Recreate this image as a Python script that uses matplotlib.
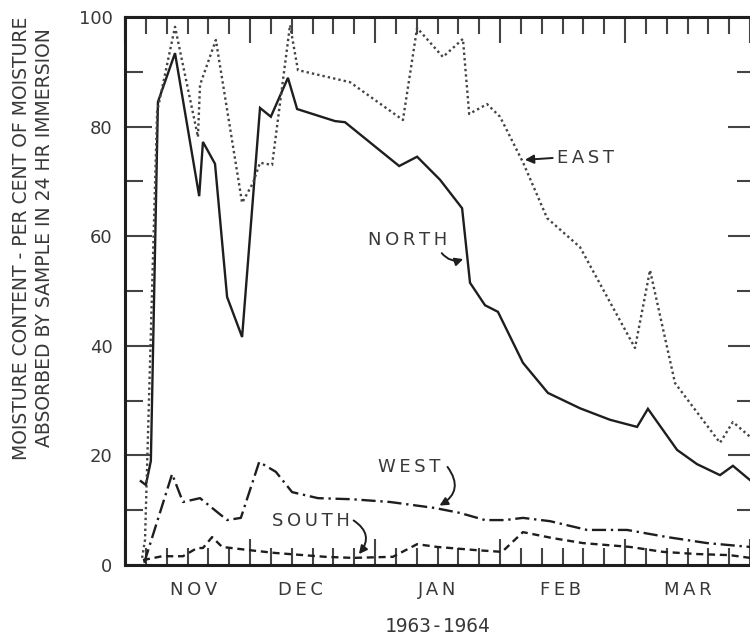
# moisture content of samples, Nov 1963 - Mar 1964
import matplotlib.pyplot as plt
from matplotlib.ticker import MultipleLocator

# days counted from 1 Nov (30 days per month on the chart)
north_day = [3.8, 5.0, 6.2, 7.9, 12.0, 17.8, 18.7, 21.6, 24.5, 28.1, 32.4, 35.0, 39.1,
             41.3, 50.4, 52.8, 65.8, 70.1, 75.6, 80.9, 82.8, 86.4, 89.5, 95.5, 101.5,
             109.2, 116.4, 122.9, 125.5, 132.5, 137.3, 142.8, 145.9, 150.0]
north_pct = [15.3, 14.6, 19.0, 84.5, 93.4, 67.3, 77.2, 73.2, 48.9, 41.6, 83.4, 81.8, 88.9,
             83.2, 81.0, 80.8, 72.8, 74.5, 70.3, 65.1, 51.5, 47.4, 46.2, 36.9, 31.4,
             28.6, 26.5, 25.2, 28.5, 21.0, 18.4, 16.4, 18.1, 15.5]

east_day = [4.1, 4.8, 7.7, 12.0, 17.5, 18.0, 21.8, 28.1, 30.7, 32.4, 35.3, 39.6, 41.5,
            54.0, 66.7, 70.1, 76.3, 81.1, 82.6, 86.9, 90.0, 95.5, 101.3, 109.2, 122.4,
            126.0, 132.0, 142.8, 145.9, 150.0]
east_pct = [1.3, 4.6, 82.7, 98.2, 78.1, 87.6, 95.8, 66.1, 69.7, 73.4, 73.0, 98.5, 90.3,
            88.1, 81.2, 98.0, 92.7, 96.0, 82.3, 84.1, 81.8, 73.5, 63.3, 58.0, 39.6,
            53.8, 33.2, 22.3, 26.1, 23.4]

west_day = [4.6, 11.3, 13.9, 18.0, 24.5, 27.8, 32.2, 36.2, 40.1, 46.3, 54.5, 63.6, 74.4,
            80.4, 86.4, 91.2, 95.5, 102.0, 110.9, 120.5, 130.1, 139.7, 150.0]
west_pct = [0.4, 16.6, 11.5, 12.2, 8.2, 8.6, 18.8, 17.0, 13.3, 12.2, 12.0, 11.5, 10.4,
            9.5, 8.2, 8.2, 8.6, 8.0, 6.4, 6.4, 5.1, 4.0, 3.3]

south_day = [4.3, 8.9, 13.9, 17.3, 18.7, 20.9, 23.3, 30.0, 36.0, 48.0, 54.7, 64.3, 70.1,
             74.9, 84.5, 90.5, 95.5, 102.7, 109.9, 121.2, 129.1, 137.3, 145.2, 150.0]
south_pct = [0.9, 1.6, 1.6, 3.1, 3.1, 5.1, 3.3, 2.7, 2.2, 1.5, 1.3, 1.5, 3.8,
             3.3, 2.7, 2.4, 6.0, 4.9, 4.0, 3.3, 2.4, 2.0, 1.8, 1.3]

months = ['NOV', 'DEC', 'JAN', 'FEB', 'MAR']
month_pos = [16.4, 42.0, 75.0, 104.4, 135.0]

ink = '#1e1e1e'
txt = '#383838'
ts = '\u2009'  # thin space to open up the lettering

fig = plt.figure(figsize=(7.5, 6.38), dpi=100)
ax = fig.add_axes([0.1667, 0.1144, 0.8333, 0.859])

ax.plot(north_day, north_pct, color=ink, lw=1.7, solid_joinstyle='miter')
ax.plot(east_day, east_pct, color='#444444', lw=1.7, linestyle=(0, (1, 1.3)))
ax.plot(west_day, west_pct, color=ink, lw=1.7, linestyle=(0, (6, 2, 1, 2)))
ax.plot(south_day, south_pct, color=ink, lw=1.7, linestyle=(0, (3, 2)))

ax.set_xlim(0, 150)
ax.set_ylim(0, 100)

for s in ['left', 'top', 'bottom']:
    ax.spines[s].set_linewidth(2.2)
    ax.spines[s].set_color(ink)
ax.spines['right'].set_visible(False)

# x ticks: long at month boundaries, short every 5 days, top and bottom
ax.xaxis.set_major_locator(MultipleLocator(30))
ax.xaxis.set_minor_locator(MultipleLocator(5))
ax.tick_params(axis='x', which='both', direction='in', top=True, bottom=True,
               labelbottom=False, color='#444444', width=1.5)
ax.tick_params(axis='x', which='major', length=18.5)
ax.tick_params(axis='x', which='minor', length=12.5)

# y ticks on the left
ax.yaxis.set_major_locator(MultipleLocator(20))
ax.yaxis.set_minor_locator(MultipleLocator(10))
ax.tick_params(axis='y', which='both', direction='in', color='#444444', width=1.5,
               labelsize=13, labelcolor=txt, pad=9)
ax.tick_params(axis='y', which='major', length=19.5)
ax.tick_params(axis='y', which='minor', length=13)

# short marks on the right edge
ax2 = ax.secondary_yaxis('right')
ax2.spines['right'].set_visible(False)
ax2.yaxis.set_major_locator(MultipleLocator(20))
ax2.yaxis.set_minor_locator(MultipleLocator(10))
ax2.tick_params(axis='y', which='both', direction='in', color='#444444', width=1.5,
                labelright=False)
ax2.tick_params(axis='y', which='major', length=16)
ax2.tick_params(axis='y', which='minor', length=9.5)

# month names and year
trans = ax.get_xaxis_transform()
for m, p in zip(months, month_pos):
    ax.text(p, -0.045, ts.join(m), transform=trans, ha='center', va='center',
            fontsize=13, color=txt)
ax.text(75, -0.112, '1963-1964', transform=trans, ha='center', va='center',
        fontsize=14, color=txt, family='DejaVu Sans Mono')

fig.text(0.029, 0.627, 'MOISTURE CONTENT - PER CENT OF MOISTURE',
         rotation=90, ha='center', va='center', fontsize=13.5, color=txt)
fig.text(0.059, 0.627, 'ABSORBED BY SAMPLE IN 24 HR IMMERSION',
         rotation=90, ha='center', va='center', fontsize=13.5, color=txt)

# series labels with pointers
lab = dict(fontsize=13, color=txt, va='center')
ax.text(103.7, 74.3, ts.join('EAST'), ha='left', **lab)
ax.annotate('', xy=(95.3, 73.9), xytext=(103.3, 74.3),
            arrowprops=dict(arrowstyle='-|>', color=ink, lw=1.4, mutation_scale=13))

ax.text(58.3, 59.3, ts.join('NORTH'), ha='left', **lab)
ax.annotate('', xy=(81.8, 56.0), xytext=(75.6, 57.3),
            arrowprops=dict(arrowstyle='-|>', color=ink, lw=1.4, mutation_scale=12,
                            connectionstyle='arc3,rad=0.4'))

ax.text(60.7, 17.9, ts.join('WEST'), ha='left', **lab)
ax.annotate('', xy=(74.9, 10.6), xytext=(77.0, 18.3),
            arrowprops=dict(arrowstyle='-|>', color=ink, lw=1.4, mutation_scale=12,
                            connectionstyle='arc3,rad=-0.6'))

ax.text(35.3, 8.0, ts.join('SOUTH'), ha='left', **lab)
ax.annotate('', xy=(55.7, 1.6), xytext=(54.3, 8.4),
            arrowprops=dict(arrowstyle='-|>', color=ink, lw=1.4, mutation_scale=12,
                            connectionstyle='arc3,rad=-0.6'))

fig.savefig('out.png', dpi=100)
